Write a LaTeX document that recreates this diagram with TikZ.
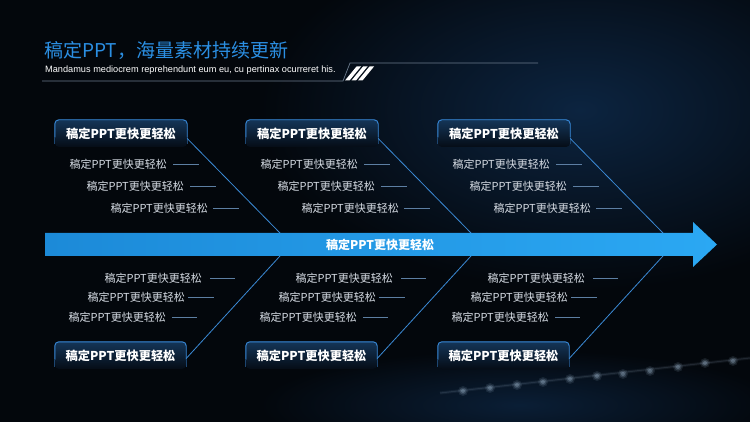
\documentclass[tikz,border=0pt]{standalone}
\usepackage{fontspec}
\setmainfont{Noto Sans CJK SC}
\newfontfamily\latinfont{Liberation Sans}
\definecolor{bgc}{HTML}{03070C}
\definecolor{glowc}{HTML}{0C2440}
\definecolor{titleblue}{HTML}{2B8FE3}
\definecolor{arrowA}{HTML}{1C8AD8}
\definecolor{arrowB}{HTML}{2BA8F3}
\definecolor{diagc}{HTML}{3B8AD6}
\definecolor{sublinec}{HTML}{5D7FA3}
\definecolor{subtextc}{HTML}{D5DBE3}
\definecolor{boxtop}{HTML}{143557}
\definecolor{boxbot}{HTML}{050C16}
\definecolor{borderc}{HTML}{3A8EE0}
\definecolor{rulec}{HTML}{6B7A8C}
\definecolor{dotc}{HTML}{9FB8CF}
\tikzset{
  boxnode/.style={minimum width=132pt, minimum height=27pt, inner sep=0pt,
    text=white, font=\bfseries\fontsize{12.2}{13}\selectfont},
  subitem/.style={anchor=east, inner sep=0pt, text=subtextc,
    font=\fontsize{11}{12}\selectfont},
  subline/.style={draw=sublinec, line width=0.7pt},
  diagline/.style={draw=diagc, line width=0.8pt},
  boxborder/.style={draw=borderc, line width=0.9pt, rounded corners=4pt},
}
\begin{document}
\begin{tikzpicture}[x=1pt,y=-1pt]
\useasboundingbox (0,0) rectangle (750,422);
% background
\fill[bgc] (0,0) rectangle (750,422);
\begin{scope}
\clip (0,0) rectangle (750,422);
\shade[inner color=glowc, outer color=bgc] (580,110) ellipse (320 and 180);
\shade[inner color=glowc!80!bgc, outer color=bgc] (520,405) ellipse (260 and 55);
\draw[dotc, opacity=0.08, line width=3pt] (440,393) -- (750,358);
\draw[dotc, opacity=0.12, line width=1pt] (440,393) -- (750,358);
\foreach \px/\py in {463/391,490/388,517/385,543/382,570/379,597/376,623/374,650/371,678/367,705/363,733/361}{
  \fill[dotc, opacity=0.12] (\px,\py) circle (5);
  \fill[dotc, opacity=0.2] (\px,\py) circle (3.5);
  \fill[dotc, opacity=0.3] (\px,\py) circle (2);
}
\end{scope}
% title
\node[anchor=west, inner sep=0pt, text=titleblue, font=\fontsize{19}{19}\selectfont] (title) at (44,50) {稿定PPT，海量素材持续更新};
\node[anchor=west, inner sep=0pt, text=white, font=\latinfont\fontsize{9.2}{10}\selectfont] (subt) at (45,70) {Mandamus mediocrem reprehendunt eum eu, cu pertinax ocurreret his.};
\coordinate (r1) at (42,81);
\coordinate (r2) at (343,81);
\coordinate (r3) at (350,63);
\coordinate (r4) at (538,63);
\draw[rulec, line width=0.7pt] (r1) -- (r2) -- (r3) -- (r4);
\foreach \k in {0,1,2}
  \fill[white] (345+6.5*\k,80.5) -- (349.5+6.5*\k,80.5) -- (361+6.5*\k,66.5) -- (356.5+6.5*\k,66.5) -- cycle;
% main arrow
\shade[left color=arrowA, right color=arrowB] (45,233) -- (693,233) -- (693,222) -- (717,244.5) -- (693,267) -- (693,256) -- (45,256) -- cycle;
\node[inner sep=0pt, text=white, font=\bfseries\fontsize{12}{13}\selectfont] (main) at (380,244.5) {稿定PPT更快更轻松};
% bones
\foreach \i/\x in {1/55,2/246,3/438}{
  % top box
  \shade[top color=boxtop, bottom color=boxbot, rounded corners=4pt] (\x,147) -- (\x,120) -- (\x+132,120) -- (\x+132,147) -- cycle;
  \node[boxnode] (t\i) at (\x+66,133.5) {稿定PPT更快更轻松};
  \draw[boxborder] ([yshift=-4pt]t\i.west) |- (t\i.north) -| ([yshift=-4pt]t\i.east);
  \draw[borderc!45!boxbot, line width=0.9pt] ([yshift=-4pt]t\i.west) -- ([yshift=-11pt]t\i.west);
  \draw[borderc!45!boxbot, line width=0.9pt] ([yshift=-4pt]t\i.east) -- ([yshift=-11pt]t\i.east);
  % top sub items
  \node[subitem] (ta\i) at (\x+112,164) {稿定PPT更快更轻松};
  \node[subitem] (tb\i) at (\x+129,186) {稿定PPT更快更轻松};
  \node[subitem] (tc\i) at (\x+153,208) {稿定PPT更快更轻松};
  \draw[subline] ([xshift=6pt]ta\i.east) -- ++(26pt,0);
  \draw[subline] ([xshift=6pt]tb\i.east) -- ++(26pt,0);
  \draw[subline] ([xshift=5pt]tc\i.east) -- ++(26pt,0);
  % top diagonal
  \coordinate (td\i) at (\x+225,233);
  \draw[diagline] ([yshift=-5pt]t\i.east) -- (td\i);
  % bottom box
  \shade[top color=boxtop, bottom color=boxbot, rounded corners=4pt] (\x,369) -- (\x,342) -- (\x+131,342) -- (\x+131,369) -- cycle;
  \node[boxnode, minimum width=131pt] (b\i) at (\x+65.5,355.5) {稿定PPT更快更轻松};
  \draw[boxborder] ([yshift=-4pt]b\i.west) |- (b\i.north) -| ([yshift=-4pt]b\i.east);
  \draw[borderc!45!boxbot, line width=0.9pt] ([yshift=-4pt]b\i.west) -- ([yshift=-11pt]b\i.west);
  \draw[borderc!45!boxbot, line width=0.9pt] ([yshift=-4pt]b\i.east) -- ([yshift=-11pt]b\i.east);
  % bottom sub items
  \node[subitem] (ba\i) at (\x+147,278) {稿定PPT更快更轻松};
  \node[subitem] (bb\i) at (\x+130,297) {稿定PPT更快更轻松};
  \node[subitem] (bc\i) at (\x+111,317) {稿定PPT更快更轻松};
  \draw[subline] ([xshift=8pt]ba\i.east) -- ++(25pt,0);
  \draw[subline] ([xshift=3pt]bb\i.east) -- ++(26pt,0);
  \draw[subline] ([xshift=6pt]bc\i.east) -- ++(25pt,0);
  % bottom diagonal
  \coordinate (bd\i) at (\x+225,256);
  \draw[diagline] (bd\i) -- ([yshift=-3pt]b\i.east);
}
\end{tikzpicture}
\end{document}
